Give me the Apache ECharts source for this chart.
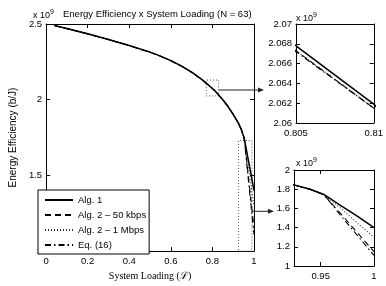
<!DOCTYPE html>
<html><head><meta charset="utf-8">
<script src="https://cdn.jsdelivr.net/npm/echarts@6/dist/echarts.min.js"></script>
<style>html,body{margin:0;padding:0;background:#fff}#c{width:386px;height:286px}</style>
</head><body><div id="c"></div>
<script>
// ---- data (energy efficiency in units of 10^9 b/J) ----
const loading  = [0.04, 0.1, 0.2, 0.3, 0.4, 0.5, 0.55, 0.6, 0.65, 0.7, 0.75, 0.8, 0.805, 0.81, 0.85, 0.875, 0.9, 0.925, 0.94, 0.953, 0.97, 0.985, 1.0];
const alg1     = [2.49, 2.470, 2.435, 2.398, 2.358, 2.314, 2.288, 2.258, 2.223, 2.182, 2.133, 2.074, 2.0678, 2.0619, 2.0, 1.955, 1.903, 1.845, 1.80, 1.745, 1.622, 1.514, 1.40];
const alg2_50k = [2.4895, 2.4695, 2.4345, 2.3975, 2.3575, 2.3135, 2.2875, 2.2575, 2.2225, 2.1815, 2.1325, 2.0735, 2.0673, 2.0615, 1.9995, 1.9545, 1.9025, 1.8445, 1.7995, 1.743, 1.53, 1.34, 1.15];
const alg2_1M  = [2.4895, 2.4695, 2.4345, 2.3975, 2.3575, 2.3135, 2.2875, 2.2575, 2.2225, 2.1815, 2.1325, 2.0735, 2.0673, 2.0615, 1.9995, 1.9545, 1.9025, 1.8445, 1.7995, 1.744, 1.59, 1.44, 1.30];
const eq16     = [2.4895, 2.4695, 2.4345, 2.3975, 2.3575, 2.3135, 2.2875, 2.2575, 2.2225, 2.1815, 2.1325, 2.0735, 2.0672, 2.0615, 1.9995, 1.9545, 1.9025, 1.8445, 1.7995, 1.743, 1.51, 1.31, 1.11];
const seriesNames = ['Alg. 1', 'Alg. 2 \u2013 50 kbps', 'Alg. 2 \u2013 1 Mbps', 'Eq. (16)'];

// tick values
const mainXTicks = [0, 0.2, 0.4, 0.6, 0.8, 1];
const mainYTicks = [1, 1.5, 2, 2.5];
const in1XTicks = [0.805, 0.81];
const in1YTicks = [2.06, 2.062, 2.064, 2.066, 2.068, 2.07];
const in2XRange = [0.925, 1];
const in2XTicks = [0.95, 1];
const in2YTicks = [1, 1.2, 1.4, 1.6, 1.8, 2];

// zoom boxes (data space) and arrow heights
const zoomBox1X = [0.77, 0.83], zoomBox1Y = [2.025, 2.13];
const zoomBox2X = [0.925, 0.99], zoomBox2Y = [1.0, 1.73];
const arrowY = [2.064, 1.263];

const FONT = '"Liberation Sans", Arial, Helvetica, sans-serif';
const fmt = v => String(+(+v).toFixed(4));

function axis(ticks, range, pos, gridIndex, showLabel, extra) {
  return Object.assign({
    type: 'value', gridIndex: gridIndex, position: pos,
    min: range[0], max: range[1],
    axisLine: {show: true, onZero: false, lineStyle: {color: '#000', width: 1}},
    axisTick: {show: true, inside: true, length: 4, customValues: ticks, lineStyle: {color: '#000', width: 1}},
    axisLabel: {show: showLabel, customValues: ticks, formatter: fmt, fontSize: 9.5, fontFamily: FONT, color: '#000',
      margin: (pos === 'bottom') ? 5 : 4},
    splitLine: {show: false}
  }, extra || {});
}
const rng = t => [t[0], t[t.length - 1]];

const grids = [
  {left: 34, top: 24, width: 220, height: 234},
  {left: 296, top: 24, width: 79, height: 99},
  {left: 294, top: 170, width: 80, height: 96}
];

const xAxes = [
  axis(mainXTicks, rng(mainXTicks), 'bottom', 0, true, {name: 'System Loading (\u2112)', nameLocation: 'middle', nameGap: 16,
    nameTextStyle: {fontFamily: '"Liberation Serif", "DejaVu Serif", serif', fontSize: 10, color: '#000'}}),
  axis(mainXTicks, rng(mainXTicks), 'top', 0, false),
  axis(in1XTicks, rng(in1XTicks), 'bottom', 1, true),
  axis(in1XTicks, rng(in1XTicks), 'top', 1, false),
  axis(in2XTicks, in2XRange, 'bottom', 2, true),
  axis(in2XTicks, in2XRange, 'top', 2, false)
];
const yAxes = [
  axis(mainYTicks, rng(mainYTicks), 'left', 0, true, {name: 'Energy Efficiency (b/J)', nameLocation: 'middle', nameGap: 28, nameRotate: 90,
    nameTextStyle: {fontFamily: FONT, fontSize: 10, color: '#000'}}),
  axis(mainYTicks, rng(mainYTicks), 'right', 0, false),
  axis(in1YTicks, rng(in1YTicks), 'left', 1, true),
  axis(in1YTicks, rng(in1YTicks), 'right', 1, false),
  axis(in2YTicks, rng(in2YTicks), 'left', 2, true),
  axis(in2YTicks, rng(in2YTicks), 'right', 2, false)
];

const ys = [alg1, alg2_50k, alg2_1M, eq16];
const styles = [
  {color: '#000', width: 1.5, type: 'solid'},
  {color: '#000', width: 1.1, type: [6, 4]},
  {color: '#333', width: 1.1, type: [1, 2]},
  {color: '#000', width: 1.1, type: [6, 3, 1.5, 3]}
];
const series = [];
for (let g = 0; g < 3; g++) {
  [1, 2, 3, 0].forEach(k => {
    series.push({
      type: 'line', name: seriesNames[k], xAxisIndex: 2 * g, yAxisIndex: 2 * g,
      data: loading.map((x, i) => [x, ys[k][i]]),
      showSymbol: false, symbol: 'none', clip: true, silent: true, animation: false,
      lineStyle: styles[k], itemStyle: {color: '#000'}, z: k === 0 ? 5 : 3
    });
  });
}
function rect(bx, by) {
  return [[bx[0], by[0]], [bx[1], by[0]], [bx[1], by[1]], [bx[0], by[1]], [bx[0], by[0]]];
}
[[zoomBox1X, zoomBox1Y], [zoomBox2X, zoomBox2Y]].forEach(b => {
  series.push({type: 'line', name: 'zoom', xAxisIndex: 0, yAxisIndex: 0, data: rect(b[0], b[1]),
    symbol: 'none', silent: true, animation: false, clip: false,
    lineStyle: {color: '#555', width: 1, type: [1, 2]}, z: 2});
});

const chart = echarts.init(document.getElementById('c'), null, {renderer: 'canvas'});
const option = {
  animation: false,
  backgroundColor: '#fff',
  grid: grids,
  xAxis: xAxes,
  yAxis: yAxes,
  series: series,
  legend: {
    data: seriesNames, orient: 'vertical', left: 38, top: 190,
    itemWidth: 28, itemHeight: 9, itemGap: 5,
    padding: [5, 3, 4, 6], borderColor: '#000', borderWidth: 1, backgroundColor: '#fff',
    itemStyle: {opacity: 0, color: 'rgba(0,0,0,0)', borderWidth: 0},
    textStyle: {fontFamily: FONT, fontSize: 9.5, color: '#000'}, selectedMode: false
  },
  title: {text: 'Energy Efficiency x System Loading (N = 63)', left: 63, top: 9, padding: 0,
    textStyle: {fontFamily: FONT, fontSize: 9.5, fontWeight: 'normal', color: '#000'}}
};
chart.setOption(option);

function expText(x, y) {
  return {type: 'text', x: x, y: y, style: {text: 'x 10{s|9}', fontFamily: FONT, fontSize: 9, fill: '#000',
    textVerticalAlign: 'bottom',
    rich: {s: {fontSize: 7, fontFamily: FONT, verticalAlign: 'top', padding: [0, 0, 6, 0]}}}};
}
function arrow(x0, x1, y) {
  return [
    {type: 'line', shape: {x1: x0, y1: y, x2: x1 - 5, y2: y}, style: {stroke: '#222', lineWidth: 1}},
    {type: 'polygon', shape: {points: [[x1, y], [x1 - 6, y - 2.5], [x1 - 6, y + 2.5]]}, style: {fill: '#222'}}
  ];
}
const a1s = chart.convertToPixel({gridIndex: 0}, [zoomBox1X[1], arrowY[0]]);
const a2s = chart.convertToPixel({gridIndex: 0}, [zoomBox2X[1], arrowY[1]]);
chart.setOption({graphic: [
  expText(33, 22), expText(296, 25), expText(296, 170),
  ...arrow(a1s[0], grids[1].left - 32, a1s[1]),
  ...arrow(a2s[0], grids[2].left - 20, a2s[1])
]});
</script></body></html>
